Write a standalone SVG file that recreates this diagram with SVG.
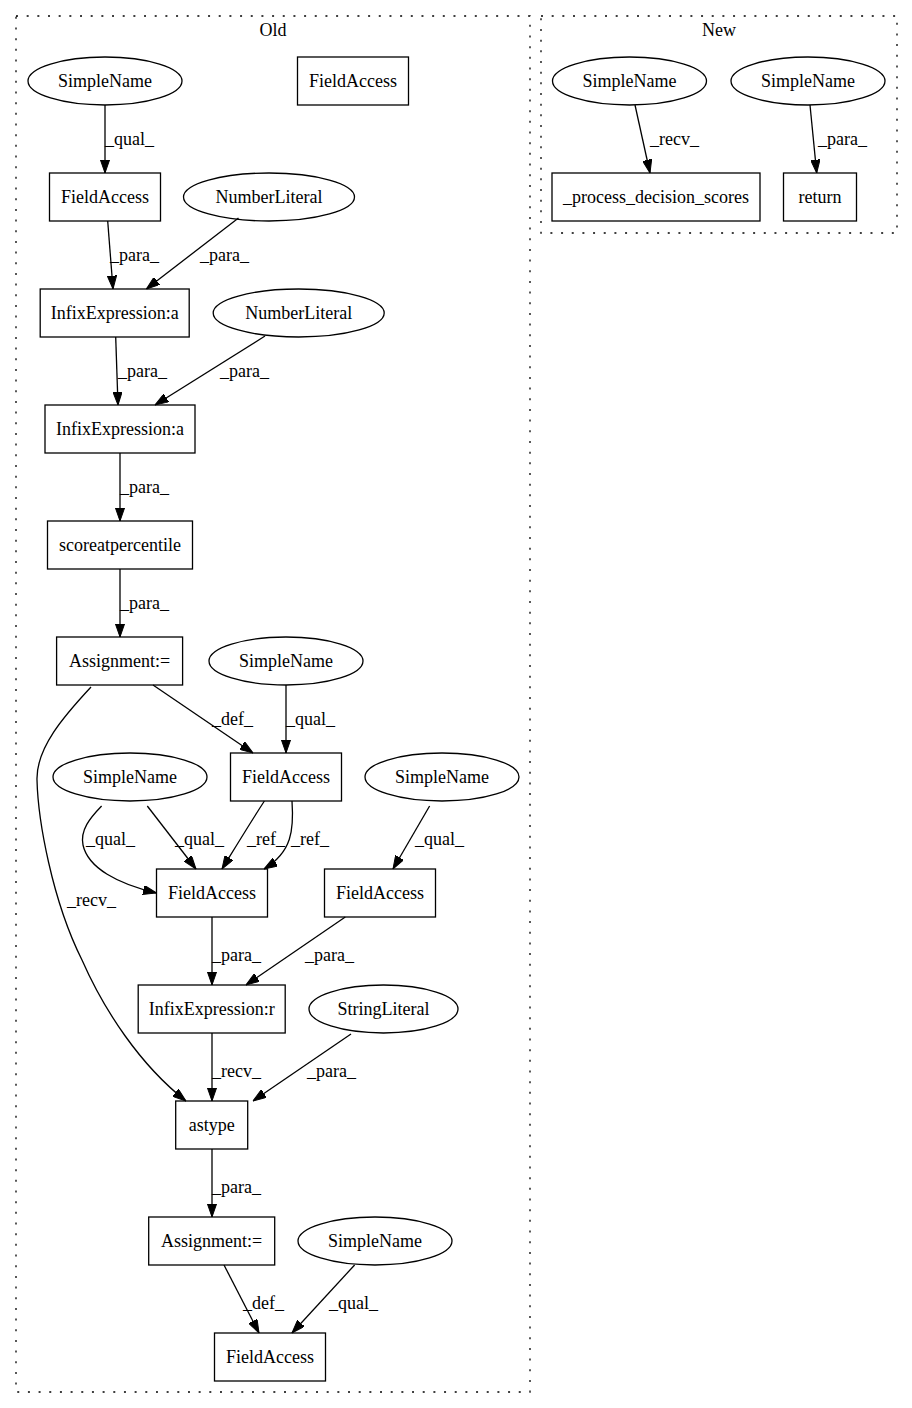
<svg xmlns="http://www.w3.org/2000/svg" width="912" height="1408" viewBox="0 0 912 1408">
<style>
text{font-family:"Liberation Serif","Times New Roman",serif;font-size:18px;fill:#000}
.n text{text-anchor:middle}
.n rect,.n ellipse{fill:none;stroke:#000;stroke-width:1.3}
.cl{fill:none;stroke:#000;stroke-width:1.3;stroke-dasharray:2,8.67}
.e path{fill:none;stroke:#000;stroke-width:1.3;marker-end:url(#ah)}
.lbl text{text-anchor:start}
.ct{text-anchor:middle}
</style>
<defs>
<marker id="ah" viewBox="0 0 13.33 9.33" refX="13.33" refY="4.67" markerWidth="13.33" markerHeight="9.33" markerUnits="userSpaceOnUse" orient="auto">
<path d="M0,0 L13.33,4.67 L0,9.33 z" fill="#000" stroke="#000" stroke-width="1"/>
</marker>
</defs>
<rect width="912" height="1408" fill="#fff"/>
<g id="cluster_old">
<rect class="cl" x="16" y="16" width="514" height="1376"/>
<text class="ct" x="273" y="36">Old</text>
</g>
<g id="cluster_new">
<rect class="cl" x="541" y="16" width="356" height="217"/>
<text class="ct" x="719" y="36">New</text>
</g>
<g id="connectors">
<g class="e">
<path d="M105,105 L105,173"/>
<path d="M107.7,221 L113,289"/>
<path d="M238.5,218 L146.3,289"/>
<path d="M115.7,337 L118,405"/>
<path d="M265,336 L155,405"/>
<path d="M120,453 L120,521"/>
<path d="M120,569 L120,637"/>
<path d="M153,685 L253,753"/>
<path d="M286,685 L286,753"/>
<path d="M101.6,806 C90,818 80,830 83,845 C88,868 118,884 156.5,893"/>
<path d="M147.3,806 L196,869"/>
<path d="M264.4,801 C252,820 238,843 222,869"/>
<path d="M292,801 C294,830 292,852 264,869"/>
<path d="M429.6,806 L393,869"/>
<path d="M212,917 L212,985"/>
<path d="M345.3,917 L246,985"/>
<path d="M91,687 C64,716 36,748 37,780 C38,820 52,900 82,960 C104,1010 140,1065 186,1101"/>
<path d="M212,1033 L212,1101"/>
<path d="M351,1034 L253,1101"/>
<path d="M212,1149 L212,1217"/>
<path d="M224,1265 L259,1333"/>
<path d="M354.6,1265 L292,1333"/>
<path d="M635,105 L650,173"/>
<path d="M810,105 L816.7,173"/>
</g>
<g class="lbl">
<text x="105" y="145">_qual_</text>
<text x="110" y="261">_para_</text>
<text x="200" y="261">_para_</text>
<text x="118" y="377">_para_</text>
<text x="220" y="377">_para_</text>
<text x="120" y="493">_para_</text>
<text x="120" y="609">_para_</text>
<text x="212" y="725">_def_</text>
<text x="286" y="725">_qual_</text>
<text x="86" y="845">_qual_</text>
<text x="175" y="845">_qual_</text>
<text x="247" y="845">_ref_</text>
<text x="291" y="845">_ref_</text>
<text x="415" y="845">_qual_</text>
<text x="67" y="906">_recv_</text>
<text x="212" y="961">_para_</text>
<text x="305" y="961">_para_</text>
<text x="212" y="1077">_recv_</text>
<text x="307" y="1077">_para_</text>
<text x="212" y="1193">_para_</text>
<text x="243" y="1309">_def_</text>
<text x="329" y="1309">_qual_</text>
<text x="650" y="145">_recv_</text>
<text x="818" y="145">_para_</text>
</g>
</g>
<g class="n">
<g id="n1"><ellipse cx="105" cy="81" rx="77" ry="24"/><text x="105" y="87">SimpleName</text></g>
<g id="n2"><rect x="297.5" y="57" width="111" height="48"/><text x="353" y="87">FieldAccess</text></g>
<g id="n3"><rect x="49.5" y="173" width="111" height="48"/><text x="105" y="203">FieldAccess</text></g>
<g id="n4"><ellipse cx="269" cy="197" rx="85.5" ry="24"/><text x="269" y="203">NumberLiteral</text></g>
<g id="n5"><rect x="40.2" y="289" width="149" height="48"/><text x="114.7" y="319">InfixExpression:a</text></g>
<g id="n6"><ellipse cx="298.7" cy="313" rx="85.5" ry="24"/><text x="298.7" y="319">NumberLiteral</text></g>
<g id="n7"><rect x="45" y="405" width="150" height="48"/><text x="120" y="435">InfixExpression:a</text></g>
<g id="n8"><rect x="47.5" y="521" width="145" height="48"/><text x="120" y="551">scoreatpercentile</text></g>
<g id="n9"><rect x="56.6" y="637" width="126" height="48"/><text x="119.6" y="667">Assignment:=</text></g>
<g id="n10"><ellipse cx="286" cy="661" rx="77" ry="24"/><text x="286" y="667">SimpleName</text></g>
<g id="n11"><rect x="230.5" y="753" width="111" height="48"/><text x="286" y="783">FieldAccess</text></g>
<g id="n12"><ellipse cx="130" cy="777" rx="77" ry="24"/><text x="130" y="783">SimpleName</text></g>
<g id="n13"><ellipse cx="442" cy="777" rx="77" ry="24"/><text x="442" y="783">SimpleName</text></g>
<g id="n14"><rect x="156.5" y="869" width="111" height="48"/><text x="212" y="899">FieldAccess</text></g>
<g id="n15"><rect x="324.5" y="869" width="111" height="48"/><text x="380" y="899">FieldAccess</text></g>
<g id="n16"><rect x="138.2" y="985" width="147" height="48"/><text x="211.7" y="1015">InfixExpression:r</text></g>
<g id="n17"><ellipse cx="383.5" cy="1009" rx="74.5" ry="24"/><text x="383.5" y="1015">StringLiteral</text></g>
<g id="n18"><rect x="175.7" y="1101" width="72" height="48"/><text x="211.7" y="1131">astype</text></g>
<g id="n19"><rect x="148.7" y="1217" width="126" height="48"/><text x="211.7" y="1247">Assignment:=</text></g>
<g id="n20"><ellipse cx="375" cy="1241" rx="77" ry="24"/><text x="375" y="1247">SimpleName</text></g>
<g id="n21"><rect x="214.5" y="1333" width="111" height="48"/><text x="270" y="1363">FieldAccess</text></g>
<g id="n22"><ellipse cx="629.5" cy="81" rx="77" ry="24"/><text x="629.5" y="87">SimpleName</text></g>
<g id="n23"><ellipse cx="808" cy="81" rx="77" ry="24"/><text x="808" y="87">SimpleName</text></g>
<g id="n24"><rect x="552" y="173" width="208" height="48"/><text x="656" y="203">_process_decision_scores</text></g>
<g id="n25"><rect x="783.5" y="173" width="73" height="48"/><text x="820" y="203">return</text></g>
</g>
</svg>
